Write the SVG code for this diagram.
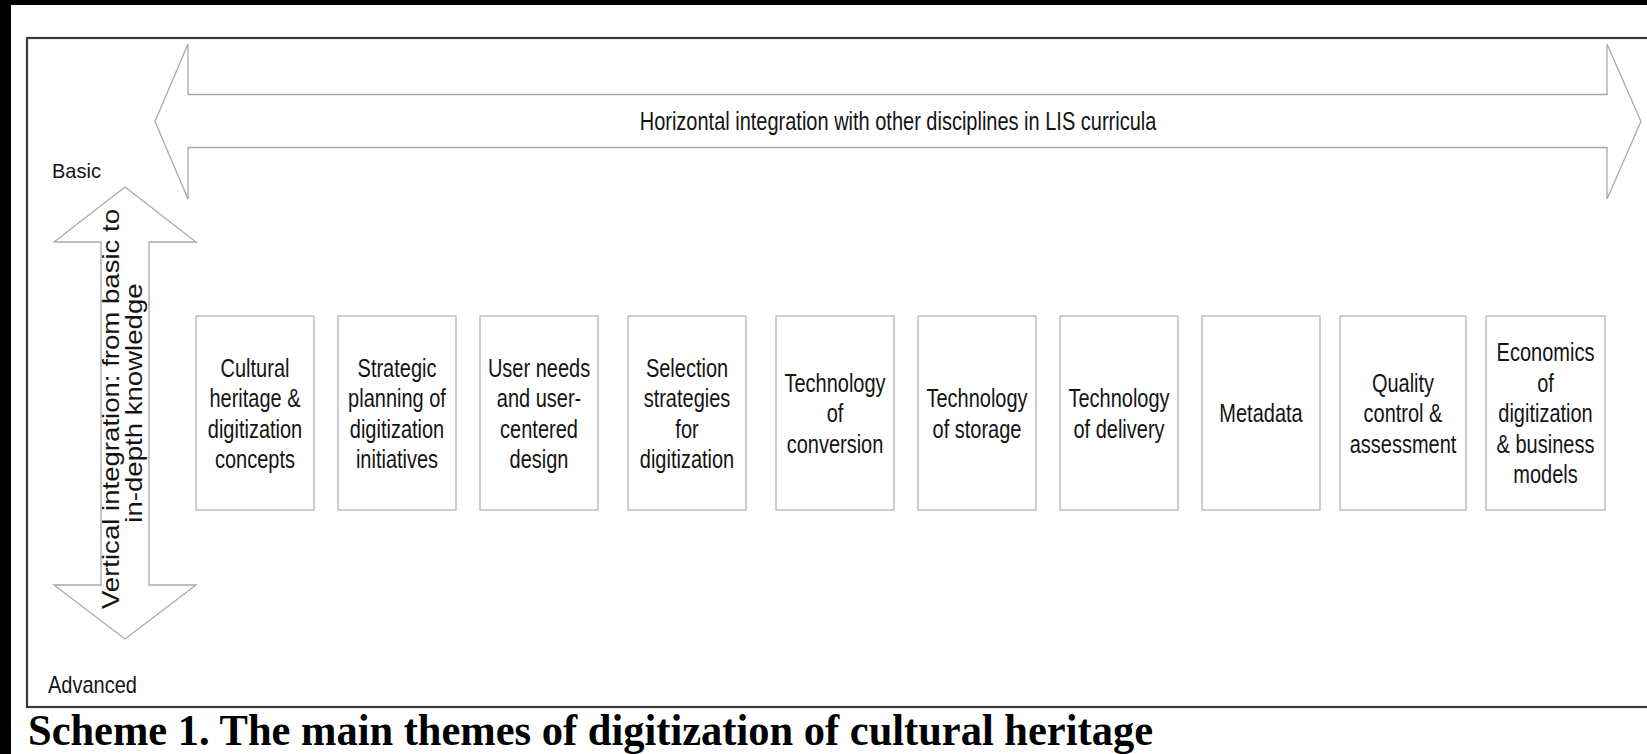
<svg xmlns="http://www.w3.org/2000/svg" width="1647" height="754" viewBox="0 0 1647 754">
<style>
.frame{fill:none;stroke:#3a3a3a;stroke-width:2.2}
.arrow{fill:#fff;stroke:#a9a9a9;stroke-width:1.3;stroke-linejoin:miter}
.box{fill:#fff;stroke:#b4b4b4;stroke-width:1.3}
.t{font-family:"Liberation Sans",Arial,sans-serif;font-size:20px;fill:#141414}
.vt{font-family:"Liberation Sans",Arial,sans-serif;font-size:23px;fill:#141414;text-anchor:middle}
.bt{font-family:"Liberation Sans",Arial,sans-serif;font-size:20px;fill:#141414;text-anchor:middle}
.title{font-family:"Liberation Serif","Times New Roman",serif;font-weight:bold;font-size:42.5px;fill:#000}
</style>
<rect x="0" y="0" width="1647" height="754" fill="#fff"/>
<rect x="0" y="0" width="11" height="754" fill="#000"/>
<rect x="0" y="0" width="1647" height="5" fill="#000"/>
<rect class="frame" x="27" y="38" width="1630" height="669"/>

<g id="connectors">
  <g id="horizontal-arrow">
    <polygon class="arrow" points="155,121.5 188,44 188,94.5 1607,94.5 1607,44 1641,121.5 1607,199 1607,147.5 188,147.5 188,199"/>
    <text class="t" text-anchor="middle" transform="translate(898,129.5) scale(1,1.25)">Horizontal integration with other disciplines in LIS curricula</text>
  </g>
  <g id="vertical-arrow">
    <polygon class="arrow" points="125,187 196,242 149,242 149,585 196,585 125,639 54,585 101,585 101,242 54,242"/>
    <text class="vt" transform="translate(118.5,409) rotate(-90) scale(1.2,1)">Vertical integration: from basic to</text>
    <text class="vt" transform="translate(142,403) rotate(-90) scale(1.2,1)">in-depth knowledge</text>
  </g>
</g>

<g id="label-basic"><text class="t" transform="translate(52,178) scale(1,1.05)">Basic</text></g>
<g id="label-advanced"><text class="t" transform="translate(48,693) scale(1,1.2)">Advanced</text></g>

<g id="node-1">
  <rect class="box" x="196" y="316" width="118" height="194"/>
  <text class="bt" transform="translate(255,413) scale(1,1.3)"><tspan x="0" y="-28.04">Cultural</tspan><tspan x="0" y="-4.58">heritage &amp;</tspan><tspan x="0" y="18.88">digitization</tspan><tspan x="0" y="42.34">concepts</tspan></text>
</g>
<g id="node-2">
  <rect class="box" x="338" y="316" width="118" height="194"/>
  <text class="bt" transform="translate(397,413) scale(1,1.3)"><tspan x="0" y="-28.04">Strategic</tspan><tspan x="0" y="-4.58">planning of</tspan><tspan x="0" y="18.88">digitization</tspan><tspan x="0" y="42.34">initiatives</tspan></text>
</g>
<g id="node-3">
  <rect class="box" x="480" y="316" width="118" height="194"/>
  <text class="bt" transform="translate(539,413) scale(1,1.3)"><tspan x="0" y="-28.04">User needs</tspan><tspan x="0" y="-4.58">and user-</tspan><tspan x="0" y="18.88">centered</tspan><tspan x="0" y="42.34">design</tspan></text>
</g>
<g id="node-4">
  <rect class="box" x="628" y="316" width="118" height="194"/>
  <text class="bt" transform="translate(687,413) scale(1,1.3)"><tspan x="0" y="-28.04">Selection</tspan><tspan x="0" y="-4.58">strategies</tspan><tspan x="0" y="18.88">for</tspan><tspan x="0" y="42.34">digitization</tspan></text>
</g>
<g id="node-5">
  <rect class="box" x="776" y="316" width="118" height="194"/>
  <text class="bt" transform="translate(835,413) scale(1,1.3)"><tspan x="0" y="-16.31">Technology</tspan><tspan x="0" y="7.15">of</tspan><tspan x="0" y="30.61">conversion</tspan></text>
</g>
<g id="node-6">
  <rect class="box" x="918" y="316" width="118" height="194"/>
  <text class="bt" transform="translate(977,413) scale(1,1.3)"><tspan x="0" y="-4.58">Technology</tspan><tspan x="0" y="18.88">of storage</tspan></text>
</g>
<g id="node-7">
  <rect class="box" x="1060" y="316" width="118" height="194"/>
  <text class="bt" transform="translate(1119,413) scale(1,1.3)"><tspan x="0" y="-4.58">Technology</tspan><tspan x="0" y="18.88">of delivery</tspan></text>
</g>
<g id="node-8">
  <rect class="box" x="1202" y="316" width="118" height="194"/>
  <text class="bt" transform="translate(1261,413) scale(1,1.3)"><tspan x="0" y="7.15">Metadata</tspan></text>
</g>
<g id="node-9">
  <rect class="box" x="1340" y="316" width="126" height="194"/>
  <text class="bt" transform="translate(1403,413) scale(1,1.3)"><tspan x="0" y="-16.31">Quality</tspan><tspan x="0" y="7.15">control &amp;</tspan><tspan x="0" y="30.61">assessment</tspan></text>
</g>
<g id="node-10">
  <rect class="box" x="1486" y="316" width="119" height="194"/>
  <text class="bt" transform="translate(1545.5,413) scale(1,1.3)"><tspan x="0" y="-39.77">Economics</tspan><tspan x="0" y="-16.31">of</tspan><tspan x="0" y="7.15">digitization</tspan><tspan x="0" y="30.61">&amp; business</tspan><tspan x="0" y="54.07">models</tspan></text>
</g>

<g id="caption"><text class="title" transform="translate(28,744.5) scale(1,1.06)">Scheme 1. The main themes of digitization of cultural heritage</text></g>
</svg>
